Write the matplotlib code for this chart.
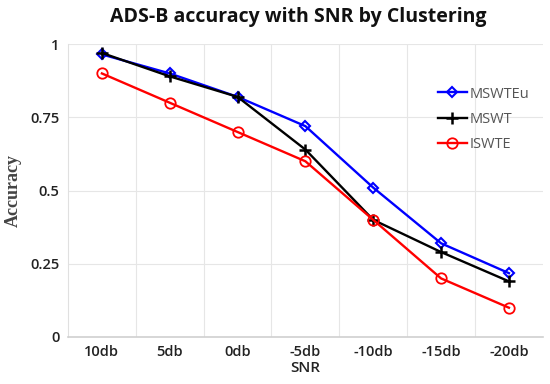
import matplotlib
matplotlib.use("Agg")
from matplotlib import pyplot as plt

snr = ["10db", "5db", "0db", "-5db", "-10db", "-15db", "-20db"]
mswteu = [0.965, 0.90, 0.82, 0.72, 0.51, 0.32, 0.218]
mswt = [0.97, 0.89, 0.82, 0.64, 0.40, 0.29, 0.19]
iswte = [0.90, 0.80, 0.70, 0.60, 0.40, 0.20, 0.10]

plt.rcParams['font.family'] = ['Open Sans', 'DejaVu Sans']

fig = plt.figure(figsize=(5.5, 3.84), dpi=100)
ax = fig.add_axes([0.1236, 0.1224, 0.8634, 0.7626])

x = range(len(snr))
ax.plot(x, mswteu, color="#0000ff", lw=1.7, marker="D", ms=5.5, mfc="none", mew=1.5, label="MSWTEu")
ax.plot(x, mswt, color="black", lw=1.7, marker="+", ms=8, mew=1.8, label="MSWT")
ax.plot(x, iswte, color="#ff0000", lw=1.7, marker="o", ms=7.5, mfc="none", mew=1.3, label="ISWTE")

ax.set_xlim(-0.5, len(snr) - 0.5)
ax.set_ylim(0, 1)
ax.set_yticks([0, 0.25, 0.5, 0.75, 1])
ax.set_yticklabels(["0", "0.25", "0.5", "0.75", "1"])
ax.set_xticks(list(x))
ax.set_xticklabels(snr)

# vertical grid between categories
for b in range(1, len(snr)):
    ax.axvline(b - 0.5, color="#e6e6e6", lw=0.8, zorder=0)
ax.yaxis.grid(True, color="#e6e6e6", lw=0.8)
ax.set_axisbelow(True)

for s in ["top", "right"]:
    ax.spines[s].set_visible(False)
ax.spines["left"].set_color("#e0e0e0")
ax.spines["bottom"].set_color("#d0d0d0")
ax.spines["bottom"].set_linewidth(1.2)
ax.tick_params(length=0, labelsize=10.5, colors="#222222", pad=6)
for t in ax.get_xticklabels() + ax.get_yticklabels():
    t.set_fontweight("semibold")

ax.set_xlabel("SNR", fontsize=11, color="#222222", labelpad=1, fontweight="semibold")
ax.set_ylabel("Accuracy", fontsize=13, fontweight="bold", family="Liberation Serif", color="#444444", labelpad=6)

fig.text(0.543, 0.955, "ADS-B accuracy with SNR by Clustering", ha="center", va="center",
         fontsize=14, fontweight="bold", color="#111111")

ax.legend(loc="upper right", bbox_to_anchor=(1.0, 0.9), frameon=False, fontsize=10.5,
          labelcolor="#555555", handlelength=2.0, handletextpad=0.2, labelspacing=0.7)

plt.savefig("out.png", dpi=100)
